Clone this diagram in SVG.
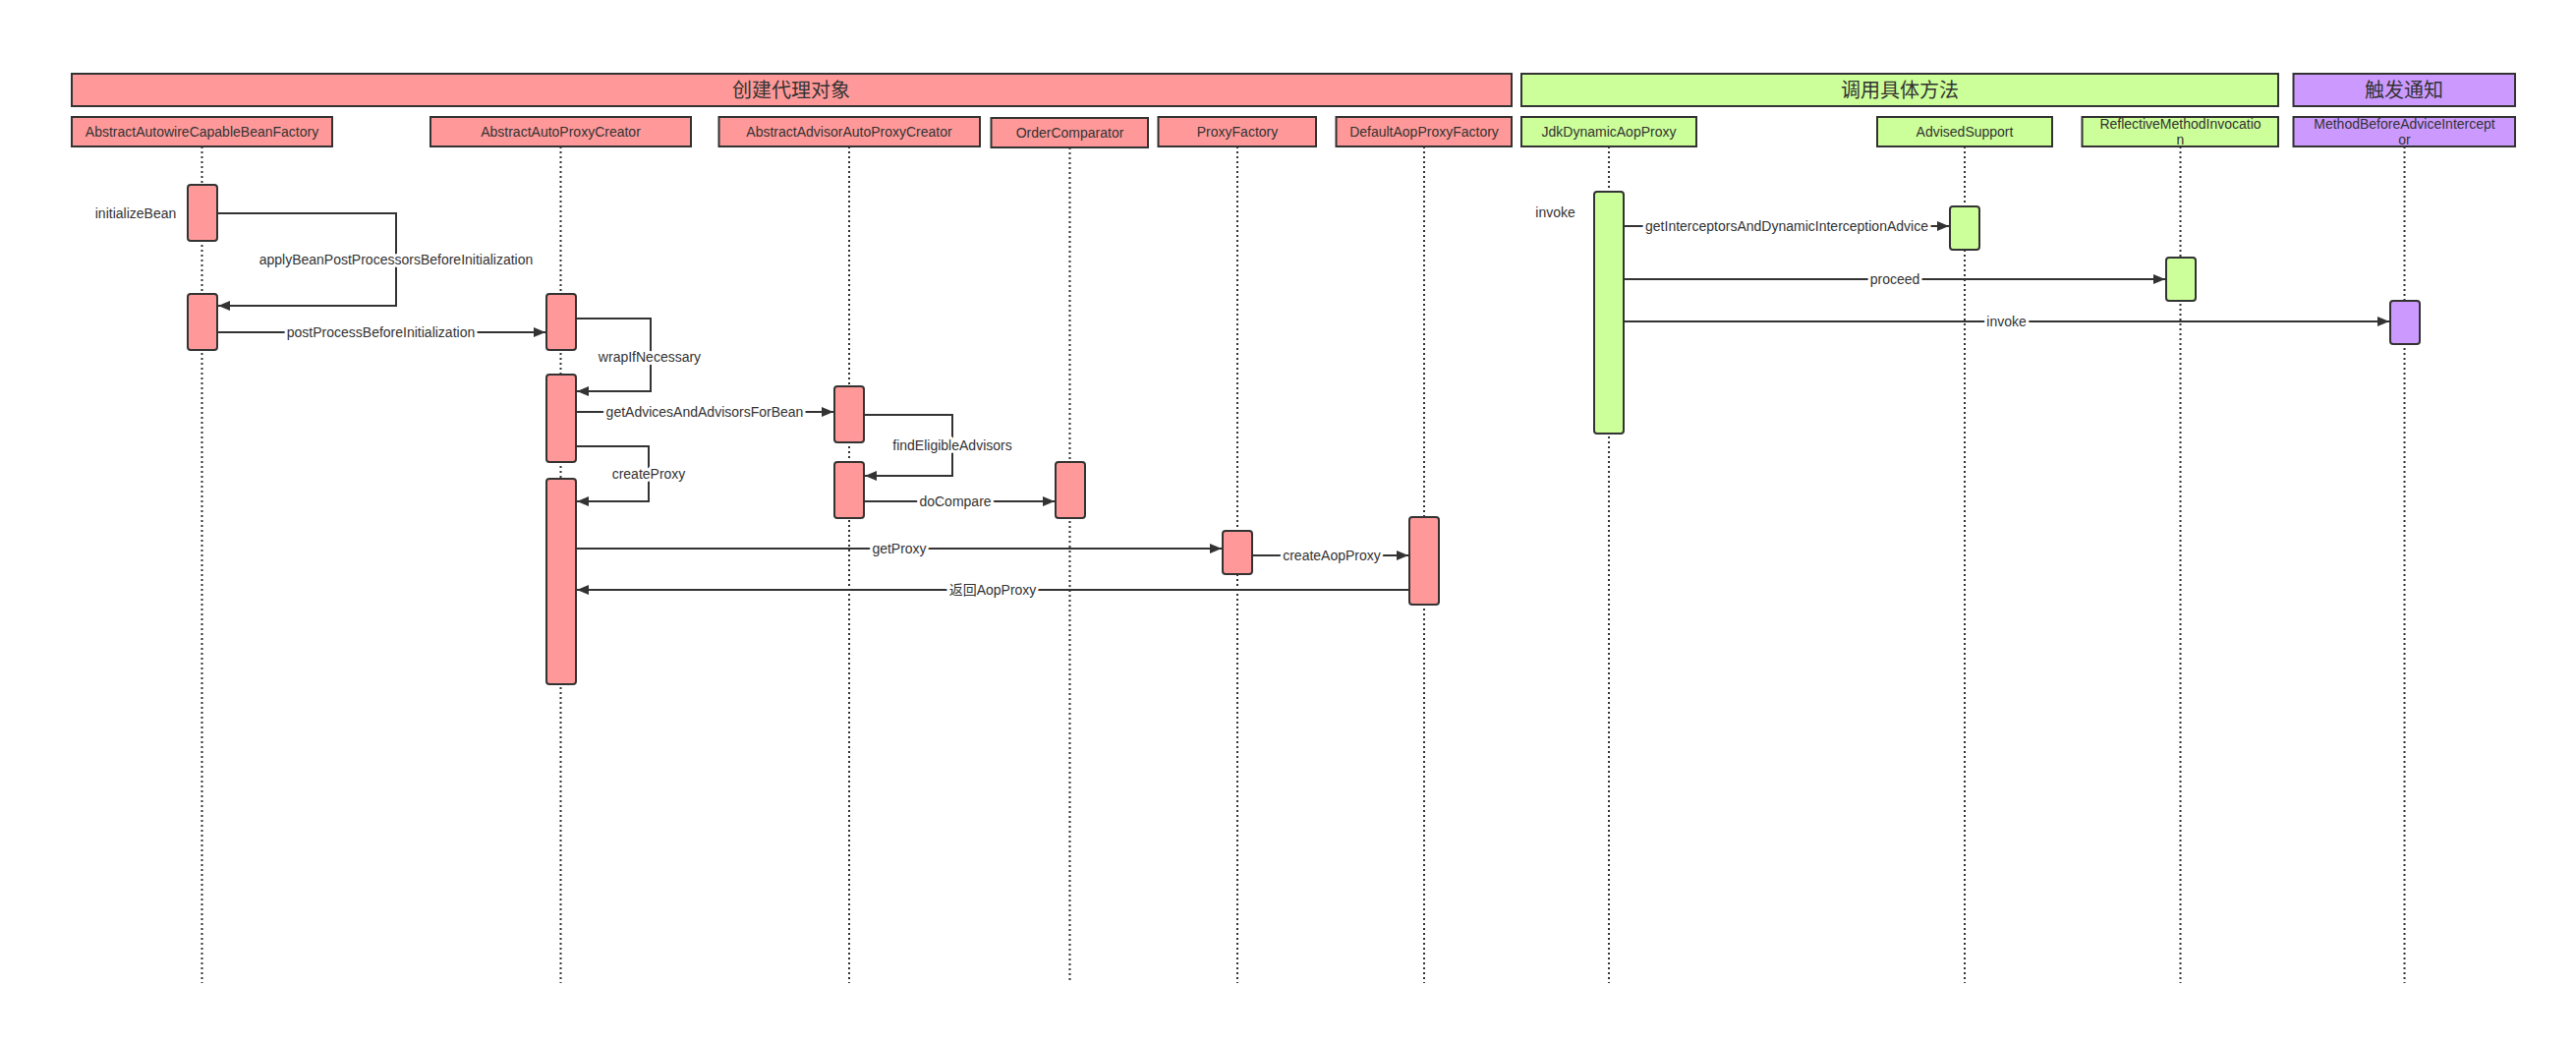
<svg xmlns="http://www.w3.org/2000/svg" width="2621" height="1063" viewBox="0 0 2621 1063">
<style>
.hdr{stroke:#333;stroke-width:2}
.pink{fill:#FF9999}
.green{fill:#CCFF99}
.purple{fill:#CC99FF}
.box{stroke:#333;stroke-width:2}
.act{stroke:#333;stroke-width:2}
.life{stroke:#333;stroke-width:2;stroke-dasharray:2 3;fill:none}
.t{font-family:"Liberation Sans",Arial,sans-serif;font-size:14px;fill:#333;text-anchor:middle}
.h{font-family:"Noto Sans CJK SC",sans-serif;font-size:20px;fill:#333;text-anchor:middle}
.msg{stroke:#333;stroke-width:2;fill:none;marker-end:url(#arr)}
.lbl{font-family:"Liberation Sans","Noto Sans CJK SC",Arial,sans-serif;font-size:14px;fill:#333;text-anchor:middle;stroke:#fff;stroke-width:6;stroke-linejoin:round;paint-order:stroke}
</style>
<defs>
<marker id="arr" markerWidth="12" markerHeight="10" refX="12" refY="5" orient="auto" markerUnits="userSpaceOnUse"><path d="M0,0 L12,5 L0,10 z" fill="#333"/></marker>
</defs>
<rect width="2621" height="1063" fill="#fff"/>

<g id="header-create">
<rect class="hdr pink" x="73" y="75" width="1465" height="33"/>
<text class="h" x="805" y="98.5">创建代理对象</text>
</g>
<g id="header-invoke">
<rect class="hdr green" x="1548" y="75" width="770" height="33"/>
<text class="h" x="1933" y="98.5">调用具体方法</text>
</g>
<g id="header-advice">
<rect class="hdr purple" x="2333.5" y="75" width="225.5" height="33"/>
<text class="h" x="2446" y="98.5">触发通知</text>
</g>

<g id="AbstractAutowireCapableBeanFactory">
<line class="life" x1="205.5" y1="149" x2="205.5" y2="1000"/>
<rect class="box pink" x="73" y="119" width="265" height="30"/>
<text class="t" x="205.5" y="139">AbstractAutowireCapableBeanFactory</text>
<rect class="act pink" x="191" y="188" width="30" height="57" rx="3"/>
<rect class="act pink" x="191" y="299" width="30" height="57" rx="3"/>
</g>

<g id="AbstractAutoProxyCreator">
<line class="life" x1="570.5" y1="149" x2="570.5" y2="1000"/>
<rect class="box pink" x="438" y="119" width="265" height="30"/>
<text class="t" x="570.5" y="139">AbstractAutoProxyCreator</text>
<rect class="act pink" x="556" y="299" width="30" height="57" rx="3"/>
<rect class="act pink" x="556" y="381" width="30" height="89" rx="3"/>
<rect class="act pink" x="556" y="487" width="30" height="209" rx="3"/>
</g>

<g id="AbstractAdvisorAutoProxyCreator">
<line class="life" x1="864" y1="149" x2="864" y2="1000"/>
<rect class="box pink" x="731.5" y="119" width="265.5" height="30"/>
<text class="t" x="864" y="139">AbstractAdvisorAutoProxyCreator</text>
<rect class="act pink" x="849" y="393" width="30" height="57" rx="3"/>
<rect class="act pink" x="849" y="470" width="30" height="57" rx="3"/>
</g>

<g id="OrderComparator">
<line class="life" x1="1088.5" y1="150" x2="1088.5" y2="1000"/>
<rect class="box pink" x="1008.5" y="120" width="159.5" height="30"/>
<text class="t" x="1088.5" y="140">OrderComparator</text>
<rect class="act pink" x="1074" y="470" width="30" height="57" rx="3"/>
</g>

<g id="ProxyFactory">
<line class="life" x1="1259" y1="149" x2="1259" y2="1000"/>
<rect class="box pink" x="1178.5" y="119" width="160.5" height="30"/>
<text class="t" x="1259" y="139">ProxyFactory</text>
<rect class="act pink" x="1244" y="540" width="30" height="44" rx="3"/>
</g>

<g id="DefaultAopProxyFactory">
<line class="life" x1="1449" y1="149" x2="1449" y2="1000"/>
<rect class="box pink" x="1359.5" y="119" width="178.5" height="30"/>
<text class="t" x="1449" y="139">DefaultAopProxyFactory</text>
<rect class="act pink" x="1434" y="526" width="30" height="89" rx="3"/>
</g>

<g id="JdkDynamicAopProxy">
<line class="life" x1="1637" y1="149" x2="1637" y2="1000"/>
<rect class="box green" x="1548" y="119" width="178" height="30"/>
<text class="t" x="1637" y="139">JdkDynamicAopProxy</text>
<rect class="act green" x="1622" y="195" width="30" height="246" rx="3"/>
</g>

<g id="AdvisedSupport">
<line class="life" x1="1999" y1="149" x2="1999" y2="1000"/>
<rect class="box green" x="1910" y="119" width="178" height="30"/>
<text class="t" x="1999" y="139">AdvisedSupport</text>
<rect class="act green" x="1984" y="210" width="30" height="44" rx="3"/>
</g>

<g id="ReflectiveMethodInvocation">
<line class="life" x1="2218.5" y1="149" x2="2218.5" y2="1000"/>
<rect class="box green" x="2118.5" y="119" width="199.5" height="30"/>
<text class="t" x="2218.5" y="131">ReflectiveMethodInvocatio</text>
<text class="t" x="2218.5" y="147">n</text>
<rect class="act green" x="2204" y="262" width="30" height="44" rx="3"/>
</g>

<g id="MethodBeforeAdviceInterceptor">
<line class="life" x1="2446.5" y1="149" x2="2446.5" y2="1000"/>
<rect class="box purple" x="2333.5" y="119" width="225.5" height="30"/>
<text class="t" x="2446.5" y="131">MethodBeforeAdviceIntercept</text>
<text class="t" x="2446.5" y="147">or</text>
<rect class="act purple" x="2432" y="306" width="30" height="44" rx="3"/>
</g>

<g id="connectors">
<text class="lbl" x="138" y="222">initializeBean</text>
<text class="lbl" x="1582.5" y="221">invoke</text>

<path class="msg" d="M221,217 H403 V311 H222"/>
<text class="lbl" x="403" y="269">applyBeanPostProcessorsBeforeInitialization</text>

<path class="msg" d="M221,338 H555"/>
<text class="lbl" x="387.5" y="343">postProcessBeforeInitialization</text>

<path class="msg" d="M586,324 H662 V398 H587"/>
<text class="lbl" x="661" y="368">wrapIfNecessary</text>

<path class="msg" d="M586,419 H848"/>
<text class="lbl" x="717" y="424">getAdvicesAndAdvisorsForBean</text>

<path class="msg" d="M586,454 H660 V510 H587"/>
<text class="lbl" x="660" y="487">createProxy</text>

<path class="msg" d="M879,422 H969 V484 H880"/>
<text class="lbl" x="969" y="458">findEligibleAdvisors</text>

<path class="msg" d="M879,510 H1073"/>
<text class="lbl" x="972" y="515">doCompare</text>

<path class="msg" d="M586,558 H1243"/>
<text class="lbl" x="915" y="563">getProxy</text>

<path class="msg" d="M1274,565 H1433"/>
<text class="lbl" x="1355" y="570">createAopProxy</text>

<path class="msg" d="M1434,600 H587"/>
<text class="lbl" x="1010" y="605">返回AopProxy</text>

<path class="msg" d="M1652,230 H1983"/>
<text class="lbl" x="1818" y="235">getInterceptorsAndDynamicInterceptionAdvice</text>

<path class="msg" d="M1652,284 H2203"/>
<text class="lbl" x="1928" y="289">proceed</text>

<path class="msg" d="M1652,327 H2431"/>
<text class="lbl" x="2041.5" y="332">invoke</text>
</g>
</svg>
